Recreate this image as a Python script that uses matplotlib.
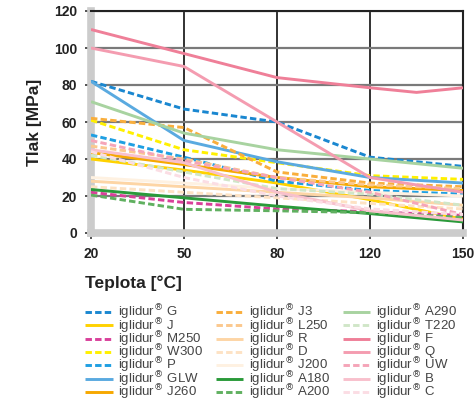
import numpy as np
import matplotlib
matplotlib.use("Agg")
import matplotlib.pyplot as plt

plt.rcParams['font.family'] = ['Liberation Sans', 'DejaVu Sans']

# ---- data ----
tick_temps = [20, 50, 80, 120, 150]
tick_labels = ["20", "50", "80", "120", "150"]
y_ticks = [0, 20, 40, 60, 80, 100, 120]

temps = [20, 50, 80, 120, 150]
temps_F = [20, 50, 80, 120, 135, 150]

G = [82, 67, 60, 41, 36]
J = [40, 34, 27, 18, 7.5]
M250 = [22, 16.5, 13, 11.5, 9.5]
W300 = [61, 45, 38, 31, 29]
P = [53, 41, 28, 23, 21]
GLW = [82, 50, 38.5, 30, 27]
J260 = [43.5, 37, 30, 25, 23]
J3 = [62, 57, 33, 27, 25]
L250 = [47, 40, 30, 26, 24]
R = [28, 25, 22, 19, 15]
D = [25, 22, 19, 16, 13]
J200 = [30, 27, 24, 22, 20]
A180 = [23.5, 19, 14.5, 10.5, 6]
A200 = [20.5, 12.8, 12, 11, 8.5]
A290 = [71, 54, 45, 40, 35]
T220 = [42, 33, 24, 21, 15]
F = [110, 97, 84, 78.5, 76, 78.5]
Q = [100, 90, 60, 30, 22]
UW = [50, 39, 30, 22, 10]
B = [45, 38, 22, 12, 7]
C = [44, 30, 20, 13, 10]

series = [
    ("G", temps, G, "#1a87d0", "--"),
    ("J", temps, J, "#ffd200", "-"),
    ("M250", temps, M250, "#d9409a", "--"),
    ("W300", temps, W300, "#fff000", "--"),
    ("P", temps, P, "#1f9fe2", "--"),
    ("GLW", temps, GLW, "#5aaae0", "-"),
    ("J260", temps, J260, "#f6a800", "-"),
    ("J3", temps, J3, "#f9ae3c", "--"),
    ("L250", temps, L250, "#fbc88e", "--"),
    ("R", temps, R, "#fdd5a5", "-"),
    ("D", temps, D, "#fde2c4", "--"),
    ("J200", temps, J200, "#fef1e1", "-"),
    ("A180", temps, A180, "#2a9a3a", "-"),
    ("A200", temps, A200, "#60b060", "--"),
    ("A290", temps, A290, "#a8d3a0", "-"),
    ("T220", temps, T220, "#d0e6c8", "--"),
    ("F", temps_F, F, "#ef7f98", "-"),
    ("Q", temps, Q, "#f49cb0", "-"),
    ("UW", temps, UW, "#f5a5b8", "--"),
    ("B", temps, B, "#f8c0cc", "-"),
    ("C", temps, C, "#fbdde4", "--"),
]

fig = plt.figure(figsize=(4.74, 3.99), dpi=100)
ax = fig.add_axes([91/474, 1-233/399, (463-91)/474, (233-11)/399])

pos = np.arange(len(tick_temps), dtype=float)
fwd = lambda x: np.interp(x, tick_temps, pos)
inv = lambda p: np.interp(p, pos, tick_temps)
ax.set_xscale('function', functions=(fwd, inv))

for name, xs, ys, col, ls in series:
    ax.plot(xs, ys, color=col, ls=ls, lw=2.1, dashes=(2.2, 1.1) if ls == "--" else (None, None),
            label="iglidur$^{®}$ " + name, solid_capstyle='butt', zorder=3)

ax.set_xlim(20, 150)
ax.set_ylim(0, 120)
ax.set_xticks(tick_temps)
ax.set_xticklabels(tick_labels)
ax.set_yticks(y_ticks)
ax.tick_params(axis='both', direction='out', length=4, width=1.2, color='#333333',
               labelsize=10, labelcolor='#222222')
for t in ax.get_xticklabels() + ax.get_yticklabels():
    t.set_fontweight('bold')
ax.tick_params(axis='x', pad=6)
ax.tick_params(axis='y', pad=6)

ax.yaxis.grid(True, color='#7a7a7a', lw=1.6, zorder=1)
ax.xaxis.grid(True, color='#222222', lw=1.3, zorder=1)
ax.set_axisbelow(True)

for s in ['left', 'bottom']:
    ax.spines[s].set_color('#cccccc')
    ax.spines[s].set_linewidth(5.5)
for s in ['top', 'right']:
    ax.spines[s].set_color('#222222')
    ax.spines[s].set_linewidth(1.5)

fig.text(35/474, 1-122/399, "Tlak [MPa]", rotation=90, ha='center', va='center',
         fontsize=12.5, fontweight='bold', color='#222222')
fig.text(85/474, 1-283/399, "Teplota [°C]", ha='left', va='center',
         fontsize=12.5, fontweight='bold', color='#222222')

leg = fig.legend(loc='upper left', bbox_to_anchor=(85/474, 1-303/399), ncol=3,
                 frameon=False, fontsize=9.5, handlelength=2.1, handletextpad=0.42,
                 columnspacing=0.95, labelspacing=-0.46, borderaxespad=0, borderpad=0)
for t in leg.get_texts():
    t.set_color('#444444')

fig.savefig("out.png", dpi=100)
